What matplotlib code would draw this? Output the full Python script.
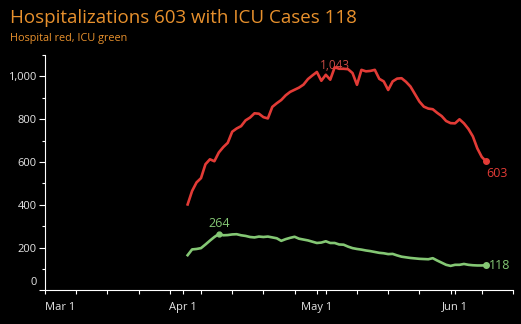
import numpy as np
import pandas as pd
import matplotlib
matplotlib.use("Agg")
import matplotlib.pyplot as plt
import matplotlib.dates as mdates

# Daily values, Apr 2 .. Jun 8
start_date = "2020-04-02"
hospital = [402, 465, 505, 525, 590, 613, 604, 645, 670, 690,
            742, 757, 768, 795, 808, 828, 826, 810, 804, 858,
            875, 890, 912, 928, 938, 948, 962, 988, 1005,
            1021, 980, 1008, 985, 1043, 1036, 1036, 1034, 1016, 961,
            1031, 1024, 1026, 1031, 989, 977, 937, 977, 990, 992,
            975, 953, 918, 883, 859, 850, 847, 830, 815, 792, 782,
            781, 800, 781, 755, 720, 664, 624, 603]
icu = [165, 192, 194, 198, 215, 233, 250, 264, 258, 259,
       262, 263, 258, 255, 250, 248, 252, 250, 252, 248,
       244, 232, 240, 246, 251, 242, 238, 234, 228,
       222, 224, 230, 222, 222, 215, 214, 205, 198, 194,
       191, 187, 184, 180, 176, 174, 170, 171, 164, 158,
       155, 152, 150, 148, 147, 146, 151, 140, 130, 120, 115,
       120, 120, 124, 120, 118, 117, 117, 118]
dates = pd.date_range(start_date, periods=len(hospital), freq="D")

title = "Hospitalizations 603 with ICU Cases 118"
subtitle = "Hospital red, ICU green"

red = "#e23b36"
green = "#84c774"
orange = "#e8912d"
tick_col = "#e6e6e6"

plt.rcParams["font.family"] = ["Open Sans", "DejaVu Sans"]

fig = plt.figure(figsize=(5.21, 3.24), dpi=100, facecolor="black")
ax = fig.add_axes([0.0864, 0.1034, 0.8982, 0.7266], facecolor="black")

ax.plot(dates, hospital, color=red, lw=1.9, solid_joinstyle="round", zorder=3)
ax.plot(dates, icu, color=green, lw=1.9, solid_joinstyle="round", zorder=3)

# end / peak markers and labels
hi = int(np.argmax(hospital))
ii = int(np.argmax(icu))
ax.plot(dates[-1], hospital[-1], "o", color=red, ms=4, zorder=4)
ax.plot(dates[-1], icu[-1], "o", color=green, ms=4, zorder=4)
ax.plot(dates[ii], icu[ii], "o", color=green, ms=3.5, zorder=4)
ax.annotate(f"{hospital[hi]:,}", (dates[hi], hospital[hi]), xytext=(0, 1),
            textcoords="offset points", ha="center", va="center",
            color="#c94a45", fontsize=8.5, zorder=2)
ax.annotate(f"{icu[ii]}", (dates[ii], icu[ii]), xytext=(0, 3),
            textcoords="offset points", ha="center", va="bottom",
            color=green, fontsize=9)
ax.annotate(f"{hospital[-1]}", (dates[-1], hospital[-1]), xytext=(0, -4),
            textcoords="offset points", ha="left", va="top",
            color=red, fontsize=9)
ax.annotate(f"{icu[-1]}", (dates[-1], icu[-1]), xytext=(2, 0),
            textcoords="offset points", ha="left", va="center",
            color=green, fontsize=9)

ax.set_xlim(pd.Timestamp("2020-03-01"), pd.Timestamp("2020-06-14"))
ax.set_ylim(0, 1100)

ax.xaxis.set_major_locator(mdates.MonthLocator())
ax.xaxis.set_major_formatter(mdates.DateFormatter("%b %-d"))
ax.xaxis.set_minor_locator(mdates.WeekdayLocator(byweekday=mdates.SU))
ax.yaxis.set_major_locator(plt.MultipleLocator(200))
ax.yaxis.set_minor_locator(plt.MultipleLocator(100))
# zero label is drawn separately, sitting above the axis line
ax.yaxis.set_major_formatter(plt.FuncFormatter(lambda v, p: "" if v == 0 else f"{v:,.0f}"))
ax.annotate("0", xy=(0, 0), xycoords=("axes fraction", "data"), xytext=(-6, 6),
            textcoords="offset points", ha="right", va="center",
            color=tick_col, fontsize=8)

for s in ["top", "right"]:
    ax.spines[s].set_visible(False)
for s in ["left", "bottom"]:
    ax.spines[s].set_color("white")
    ax.spines[s].set_linewidth(0.8)

ax.tick_params(axis="both", which="both", colors="white", labelcolor=tick_col,
               labelsize=8, width=0.8)
ax.tick_params(axis="y", which="major", length=4, pad=2)
ax.tick_params(axis="y", which="minor", length=2)
ax.tick_params(axis="x", which="both", length=3, pad=5)

fig.canvas.draw()
ax.get_xticklabels()[0].set_horizontalalignment("left")

fig.text(10 / 521, 1 - 18 / 324, title, color=orange, fontsize=13.5,
         ha="left", va="center")
fig.text(10 / 521, 1 - 38 / 324, subtitle, color=orange, fontsize=7.8,
         ha="left", va="center")

fig.savefig("out.png", dpi=100, facecolor="black")
